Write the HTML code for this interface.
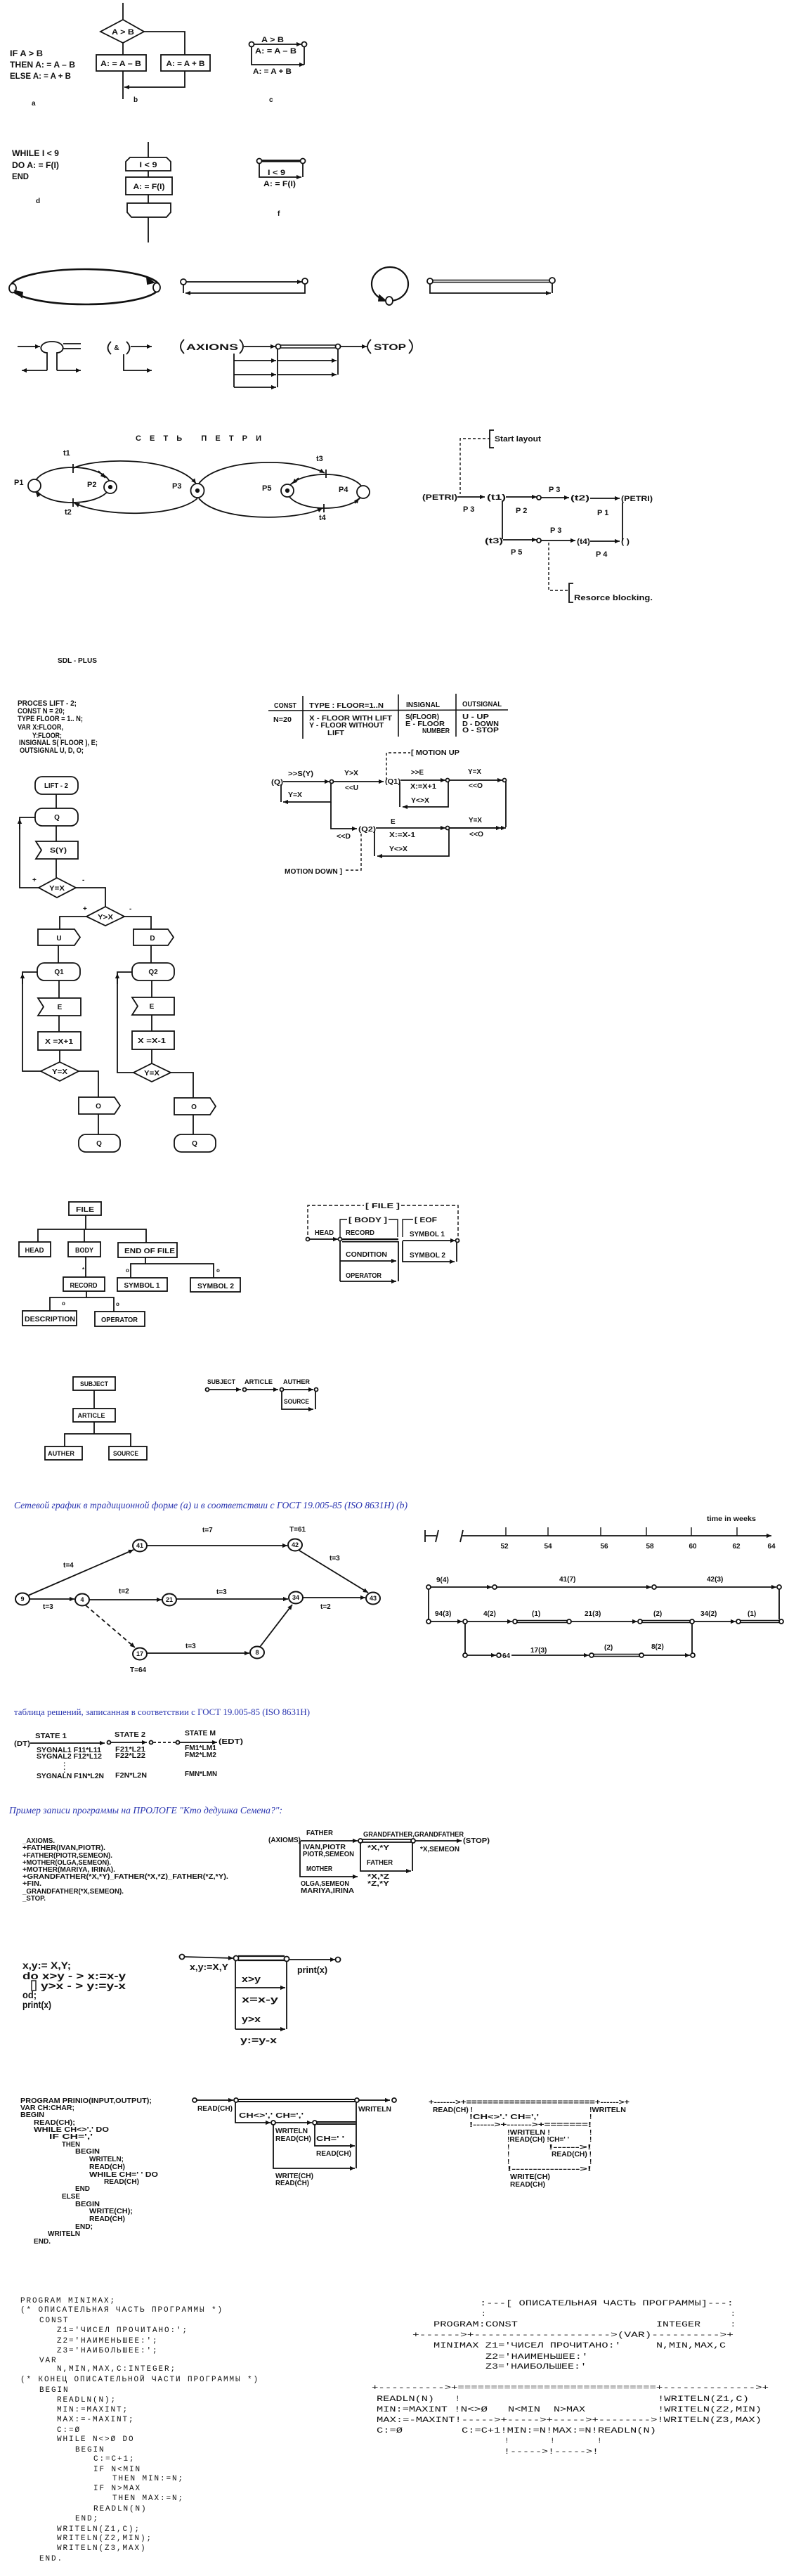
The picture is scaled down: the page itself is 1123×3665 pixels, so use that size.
<!DOCTYPE html>
<html><head><meta charset="utf-8"><style>
html,body{margin:0;padding:0;background:#fff;}
svg{display:block}
.t{font-family:"Liberation Sans","Noto Sans CJK SC",sans-serif;font-weight:bold;fill:#111;stroke:none}
.m{font-family:"Liberation Mono","Noto Sans CJK SC",monospace;fill:#111;stroke:none;font-size:11px;letter-spacing:1.9px}
.bl{font-family:"Liberation Serif","Noto Serif CJK SC",serif;fill:#2a35b0;stroke:none}
</style></head><body>
<svg width="1123" height="3665" viewBox="0 0 1123 3665" xmlns="http://www.w3.org/2000/svg">
<defs>
<marker id="a" viewBox="0 0 10 10" refX="10" refY="5" markerWidth="8" markerHeight="7" markerUnits="userSpaceOnUse" orient="auto"><path d="M0,0.5 L10,5 L0,9.5z" fill="#111"/></marker>
</defs>
<rect width="1123" height="3665" fill="#fff"/>

<g fill="none" stroke="#111" stroke-width="1.8">
<!-- ===== Section 1 ===== -->
<path d="M175,4V28"/>
<polygon points="175,28 205,45 175,61 143,45" fill="#fff"/>
<path d="M205,45H263V78"/>
<path d="M175,61V78"/>
<rect x="137" y="78" width="71" height="23"/>
<rect x="229" y="78" width="70" height="23"/>
<path d="M175,101V141"/>
<path d="M263,101V124H177" marker-end="url(#a)"/>
<path d="M361,63H429" marker-end="url(#a)"/>
<path d="M358,66V92H433" marker-end="url(#a)"/>
<path d="M433,66V92"/>
<circle cx="358" cy="63" r="3.5" fill="#fff"/>
<circle cx="433" cy="63" r="3.5" fill="#fff"/>
<path d="M211,202V345"/>
<polygon points="185,224 237,224 243,230 243,243 179,243 179,230" fill="#fff"/>
<rect x="179" y="252" width="66" height="25" fill="#fff"/>
<polygon points="181,289 243,289 243,302 237,309 187,309 181,302" fill="#fff"/>
<path d="M372,229H428" stroke-width="3.5"/>
<path d="M369,232V252H429" marker-end="url(#a)"/>
<path d="M431,232V252"/>
<circle cx="369" cy="229" r="3.5" fill="#fff"/>
<circle cx="431" cy="229" r="3.5" fill="#fff"/>

<!-- ===== Section 2 ===== -->
<ellipse cx="121" cy="408" rx="106" ry="25" stroke-width="2.6"/>
<ellipse cx="18" cy="410" rx="5" ry="6.5" fill="#fff"/>
<ellipse cx="223" cy="409" rx="5" ry="6.5" fill="#fff"/>
<polygon points="209,395 219,402 210,404" fill="#111"/>
<polygon points="31,423 22,414 32,416" fill="#111"/>
<path d="M265,401H430" marker-end="url(#a)"/>
<path d="M434,404V417H264" marker-end="url(#a)"/>
<path d="M261,405V417"/>
<circle cx="261" cy="401" r="4" fill="#fff"/>
<circle cx="434" cy="400" r="4" fill="#fff"/>
<ellipse cx="555" cy="404" rx="26" ry="24" stroke-width="2.2"/>
<polygon points="540,420 549,428 539,428" fill="#111"/>
<ellipse cx="554" cy="428" rx="5" ry="6" fill="#fff"/>
<path d="M616,398.5H782M616,401.5H782" stroke-width="1.4"/>
<path d="M612,404V417H784" marker-end="url(#a)"/>
<path d="M786,403V417"/>
<circle cx="612" cy="400" r="4" fill="#fff"/>
<circle cx="786" cy="399" r="4" fill="#fff"/>
<!-- fork -->
<path d="M25,493H57" marker-end="url(#a)"/>
<path d="M67,527V502C54,501 55,486 74,486C93,486 94,501 81,502V527"/>
<path d="M67,527H31" marker-end="url(#a)"/>
<path d="M81,527H115" marker-end="url(#a)"/>
<path d="M90,489H115M90,496H115"/>
<!-- & -->
<path d="M158,486Q149,495 158,504"/>
<path d="M180,486Q189,495 180,504"/>
<path d="M186,493H216" marker-end="url(#a)"/>
<path d="M176,504V527H216" marker-end="url(#a)"/>
<!-- axioms -->
<path d="M262,483Q252,493 262,503"/>
<path d="M341,483Q351,493 341,503"/>
<path d="M347,493H392" marker-end="url(#a)"/>
<path d="M399,491H478M399,495H478" stroke-width="1.6"/>
<path d="M485,493H522" marker-end="url(#a)"/>
<path d="M528,483Q518,493 528,503"/>
<path d="M582,483Q592,493 582,503"/>
<path d="M333,503V551"/>
<path d="M333,513H393" marker-end="url(#a)"/>
<path d="M333,533H393" marker-end="url(#a)"/>
<path d="M333,551H393" marker-end="url(#a)"/>
<path d="M395,497V551"/>
<path d="M395,513H479" marker-end="url(#a)"/>
<path d="M395,533H479" marker-end="url(#a)"/>
<path d="M481,497V533"/>
<circle cx="396" cy="493" r="3.5" fill="#fff"/>
<circle cx="481" cy="493" r="3.5" fill="#fff"/>

<!-- ===== Petri ===== -->
<ellipse cx="103" cy="690" rx="54" ry="25"/>
<ellipse cx="463" cy="699" rx="54" ry="24"/>
<path d="M104,666C140,650 250,650 279,688" marker-end="url(#a)"/>
<path d="M281,709C250,736 150,736 106,716" marker-end="url(#a)"/>
<path d="M283,688C310,652 420,650 462,673" marker-end="url(#a)"/>
<path d="M283,709C310,742 420,742 459,723" marker-end="url(#a)"/>
<path d="M140,670L150,680" marker-end="url(#a)"/>
<path d="M56,706L51,700" marker-end="url(#a)"/>
<path d="M425,680L416,688" marker-end="url(#a)"/>
<path d="M505,716L511,709" marker-end="url(#a)"/>
<path d="M104,660V673M104,709V721M464,668V680M461,717V729"/>
<ellipse cx="49" cy="691" rx="9" ry="9" fill="#fff"/>
<ellipse cx="157" cy="693" rx="9" ry="9" fill="#fff"/>
<ellipse cx="281" cy="698" rx="9.5" ry="10" fill="#fff"/>
<ellipse cx="409" cy="698" rx="9" ry="9" fill="#fff"/>
<ellipse cx="517" cy="700" rx="9" ry="9" fill="#fff"/>
<circle cx="157" cy="693" r="2.2" fill="#111"/>
<circle cx="281" cy="698" r="2.2" fill="#111"/>
<circle cx="409" cy="698" r="2.2" fill="#111"/>
<!-- right layout -->
<path d="M698,624H655V703" stroke-dasharray="4,3" stroke-width="1.4"/>
<path d="M703,612H697V637H703"/>
<path d="M651,707H690" marker-end="url(#a)"/>
<path d="M720,707H764" marker-end="url(#a)"/>
<path d="M770,708H810" marker-end="url(#a)"/>
<path d="M840,709H882" marker-end="url(#a)"/>
<path d="M715,712V767"/>
<path d="M716,768H764" marker-end="url(#a)"/>
<path d="M770,769H819" marker-end="url(#a)"/>
<path d="M840,770H882" marker-end="url(#a)"/>
<path d="M886,715V770"/>
<path d="M781,772V840H810" stroke-dasharray="4,3" stroke-width="1.4"/>
<path d="M816,830H810V857H816"/>
<circle cx="767" cy="708" r="3" fill="#fff"/>
<circle cx="767" cy="769" r="3" fill="#fff"/>

<!-- ===== SDL left flowchart ===== -->
<rect x="50" y="1105" width="61" height="25" rx="10"/>
<path d="M80,1130V1150"/>
<rect x="50" y="1150" width="61" height="25" rx="10"/>
<path d="M80,1175V1197"/>
<polygon points="51,1197 111,1197 111,1222 51,1222 59,1209.5"/>
<path d="M80,1222V1249"/>
<polygon points="81,1249 108,1263 81,1277 55,1263"/>
<path d="M55,1263H28V1163H50"/>
<path d="M28,1180V1165" marker-end="url(#a)"/>
<path d="M108,1263H150V1290"/>
<polygon points="150,1290 177,1304 150,1317 123,1304"/>
<path d="M123,1304H85V1322"/>
<path d="M177,1304H215V1322"/>
<polygon points="54,1322 106,1322 114,1333.5 106,1345 54,1345"/>
<polygon points="190,1322 239,1322 247,1333.5 239,1345 190,1345"/>
<path d="M83,1345V1370"/>
<rect x="53" y="1370" width="61" height="25" rx="10"/>
<path d="M84,1395V1420"/>
<polygon points="54,1420 115,1420 115,1445 54,1445 62,1432.5"/>
<path d="M84,1445V1468"/>
<rect x="54" y="1468" width="61" height="26"/>
<path d="M85,1494V1511"/>
<polygon points="85,1511 112,1524 85,1538 58,1524"/>
<path d="M58,1524H32V1383H53"/>
<path d="M32,1400V1385" marker-end="url(#a)"/>
<path d="M112,1524H140V1561"/>
<polygon points="112,1561 163,1561 171,1573 163,1585 112,1585"/>
<path d="M140,1585V1614"/>
<rect x="112" y="1614" width="59" height="25" rx="10"/>
<path d="M215,1345V1370"/>
<rect x="188" y="1370" width="60" height="25" rx="10"/>
<path d="M216,1395V1419"/>
<polygon points="188,1419 248,1419 248,1444 188,1444 196,1431.5"/>
<path d="M216,1444V1467"/>
<rect x="188" y="1467" width="60" height="26"/>
<path d="M216,1493V1513"/>
<polygon points="216,1513 243,1526 216,1539 190,1526"/>
<path d="M190,1526H167V1383H188"/>
<path d="M167,1400V1385" marker-end="url(#a)"/>
<path d="M243,1526H275V1562"/>
<polygon points="248,1562 299,1562 307,1574 299,1586 248,1586"/>
<path d="M275,1586V1614"/>
<rect x="248" y="1614" width="59" height="25" rx="10"/>

<!-- CONST table -->
<path d="M382,1011L723,1010" stroke-width="1.6"/>
<path d="M431,990V1051M567,988V1048M649,987V1048" stroke-width="1.6"/>

<!-- SDL right -->
<path d="M550,1110V1071H584" stroke-dasharray="4,3" stroke-width="1.4"/>
<path d="M403,1112H469" marker-end="url(#a)"/>
<path d="M474,1112H546" marker-end="url(#a)"/>
<path d="M570,1110H634" marker-end="url(#a)"/>
<path d="M638,1112V1148H573" marker-end="url(#a)"/>
<path d="M569,1113V1148"/>
<path d="M640,1110H715" marker-end="url(#a)"/>
<path d="M720,1110V1177"/>
<path d="M471,1115V1141H403" marker-end="url(#a)"/>
<path d="M400,1116V1141"/>
<path d="M471,1141V1179H508" marker-end="url(#a)"/>
<path d="M514,1186V1238H490" stroke-dasharray="4,3" stroke-width="1.4"/>
<path d="M535,1178H634" marker-end="url(#a)"/>
<path d="M639,1180V1218H537" marker-end="url(#a)"/>
<path d="M533,1182V1218"/>
<path d="M640,1178H720" marker-end="url(#a)"/>
<path d="M640,1178H713" marker-end="url(#a)"/>
<circle cx="472" cy="1112" r="2.5" fill="#fff"/>
<circle cx="637" cy="1110" r="2.5" fill="#fff"/>
<circle cx="718" cy="1110" r="2.5" fill="#fff"/>
<circle cx="637" cy="1178" r="2.5" fill="#fff"/>

<!-- ===== FILE tree ===== -->
<rect x="98" y="1710" width="46" height="19"/>
<path d="M122,1729V1749M54,1767V1749H208V1768M120,1749V1767"/>
<rect x="27" y="1767" width="45" height="21"/>
<rect x="97" y="1767" width="46" height="21"/>
<rect x="168" y="1768" width="84" height="21"/>
<path d="M122,1788V1817"/>
<rect x="90" y="1817" width="59" height="20"/>
<path d="M207,1789V1798M186,1818V1798H304V1818"/>
<rect x="167" y="1818" width="71" height="19"/>
<rect x="271" y="1818" width="71" height="20"/>
<path d="M123,1837V1846M71,1865V1846H162V1866"/>
<rect x="32" y="1865" width="77" height="21"/>
<rect x="135" y="1866" width="71" height="21"/>
<!-- FILE right -->
<path d="M438,1757V1715H518M571,1715H652V1765" stroke-dasharray="5,3" stroke-width="1.4"/>
<path d="M484,1760V1735H494M553,1735H566V1760M573,1760V1735H588" stroke-width="1.4"/>
<path d="M441,1763H481" marker-end="url(#a)"/>
<path d="M487,1763H567M487,1766.5H567" stroke-width="2"/>
<path d="M573,1765H648" marker-end="url(#a)"/>
<path d="M573,1766V1795H647" marker-end="url(#a)"/>
<path d="M650,1768V1795"/>
<path d="M484,1766V1823"/>
<path d="M484,1794H564" marker-end="url(#a)"/>
<path d="M484,1823H564" marker-end="url(#a)"/>
<path d="M567,1766V1823"/>
<circle cx="438" cy="1763" r="2.5" fill="#fff"/>
<circle cx="484" cy="1763" r="2.5" fill="#fff"/>
<circle cx="651" cy="1765" r="2.5" fill="#fff"/>
<!-- SUBJECT tree -->
<rect x="104" y="1959" width="60" height="19"/>
<path d="M134,1978V2004"/>
<rect x="104" y="2004" width="60" height="19"/>
<path d="M134,2023V2040M92,2058V2040H186V2058"/>
<rect x="64" y="2058" width="53" height="19"/>
<rect x="155" y="2058" width="54" height="19"/>
<path d="M298,1977H343" marker-end="url(#a)"/>
<path d="M351,1977H396" marker-end="url(#a)"/>
<path d="M404,1977H446" marker-end="url(#a)"/>
<path d="M401,1980V2005H446" marker-end="url(#a)"/>
<path d="M449,1980V2005"/>
<circle cx="295" cy="1977" r="2.5" fill="#fff"/>
<circle cx="348" cy="1977" r="2.5" fill="#fff"/>
<circle cx="401" cy="1977" r="2.5" fill="#fff"/>
<circle cx="450" cy="1977" r="2.5" fill="#fff"/>

<!-- ===== Network ===== -->
<path d="M40,2270L190,2205" marker-end="url(#a)"/>
<path d="M209,2199H409" marker-end="url(#a)"/>
<path d="M426,2206L524,2266" marker-end="url(#a)"/>
<path d="M42,2275H106" marker-end="url(#a)"/>
<path d="M127,2276H230" marker-end="url(#a)"/>
<path d="M251,2275H410" marker-end="url(#a)"/>
<path d="M431,2273H520" marker-end="url(#a)"/>
<path d="M122,2284L192,2344" marker-end="url(#a)" stroke-dasharray="6,4"/>
<path d="M209,2352H355" marker-end="url(#a)"/>
<path d="M370,2343L416,2283" marker-end="url(#a)"/>
<ellipse cx="32" cy="2275" rx="10" ry="8.5" fill="#fff" stroke-width="2"/>
<ellipse cx="117" cy="2276" rx="10" ry="8.5" fill="#fff" stroke-width="2"/>
<ellipse cx="199" cy="2199" rx="10" ry="8.5" fill="#fff" stroke-width="2"/>
<ellipse cx="420" cy="2198" rx="10" ry="8.5" fill="#fff" stroke-width="2"/>
<ellipse cx="241" cy="2276" rx="10" ry="8.5" fill="#fff" stroke-width="2"/>
<ellipse cx="421" cy="2273" rx="10" ry="8.5" fill="#fff" stroke-width="2"/>
<ellipse cx="531" cy="2274" rx="10" ry="8.5" fill="#fff" stroke-width="2"/>
<ellipse cx="199" cy="2353" rx="10" ry="8.5" fill="#fff" stroke-width="2"/>
<ellipse cx="366" cy="2351" rx="10" ry="8.5" fill="#fff" stroke-width="2"/>
<!-- time axis -->
<path d="M657,2185H1098" marker-end="url(#a)"/>
<path d="M605,2177V2194M605,2185H621M620,2194L624,2177M655,2194L659,2177"/>
<path d="M720,2173V2185M780,2173V2185M855,2173V2185M920,2173V2185M984,2173V2185M1049,2173V2185" stroke-width="1.4"/>
<!-- right network -->
<path d="M613,2258H700" marker-end="url(#a)"/>
<path d="M707,2258H927" marker-end="url(#a)"/>
<path d="M934,2258H1105" marker-end="url(#a)"/>
<path d="M610,2261V2304M1109,2261V2304"/>
<path d="M613,2307H658" marker-end="url(#a)"/>
<path d="M665,2307H729" marker-end="url(#a)"/>
<path d="M736,2305.5H807M736,2308.5H807" stroke-width="1.6"/>
<path d="M813,2307H907" marker-end="url(#a)"/>
<path d="M914,2305.5H982M914,2308.5H982" stroke-width="1.6"/>
<path d="M988,2307H1047" marker-end="url(#a)"/>
<path d="M1054,2305.5H1109M1054,2308.5H1109" stroke-width="1.6"/>
<path d="M662,2310V2352M985,2310V2352"/>
<path d="M665,2355H706" marker-end="url(#a)"/>
<path d="M728,2355H838" marker-end="url(#a)"/>
<path d="M845,2353.5H910M845,2356.5H910" stroke-width="1.6"/>
<path d="M916,2355H982" marker-end="url(#a)"/>
<g fill="#fff">
<circle cx="610" cy="2258" r="3"/><circle cx="704" cy="2258" r="3"/><circle cx="931" cy="2258" r="3"/><circle cx="1109" cy="2258" r="3"/>
<circle cx="610" cy="2307" r="3"/><circle cx="662" cy="2307" r="3"/><circle cx="733" cy="2307" r="3"/><circle cx="810" cy="2307" r="3"/><circle cx="911" cy="2307" r="3"/><circle cx="985" cy="2307" r="3"/><circle cx="1051" cy="2307" r="3"/><circle cx="1112" cy="2307" r="3"/>
<circle cx="662" cy="2355" r="3"/><circle cx="710" cy="2355" r="3"/><circle cx="842" cy="2355" r="3"/><circle cx="913" cy="2355" r="3"/><circle cx="986" cy="2355" r="3"/>
</g>

<!-- decision table -->
<path d="M43,2480H149" marker-end="url(#a)"/>
<path d="M158,2479H209" marker-end="url(#a)"/>
<path d="M218,2479H250" stroke-dasharray="4,3"/>
<path d="M256,2479H309" marker-end="url(#a)"/>
<circle cx="155" cy="2479" r="2.5" fill="#fff"/>
<circle cx="215" cy="2479" r="2.5" fill="#fff"/>
<circle cx="253" cy="2479" r="2.5" fill="#fff"/>

<!-- PROLOG diagram -->
<path d="M428,2619H509" marker-end="url(#a)"/>
<path d="M516,2617H585M516,2621H585" stroke-width="1.8"/>
<path d="M591,2619H657" marker-end="url(#a)"/>
<path d="M427,2619V2670H509" marker-end="url(#a)"/>
<path d="M513,2622V2662H585" marker-end="url(#a)"/>
<path d="M587,2622V2662"/>
<circle cx="513" cy="2619" r="3" fill="#fff"/>
<circle cx="588" cy="2619" r="3" fill="#fff"/>

<!-- x:=y diagram -->
<path d="M262,2784L332,2786" marker-end="url(#a)"/>
<path d="M339,2783H405M339,2789H405" stroke-width="2.2"/>
<path d="M411,2788H477" marker-end="url(#a)"/>
<path d="M335,2790V2887"/>
<path d="M335,2828H406" marker-end="url(#a)"/>
<path d="M335,2887H406" marker-end="url(#a)"/>
<path d="M408,2791V2887"/>
<circle cx="259" cy="2784" r="3.5" fill="#fff"/>
<circle cx="336" cy="2786" r="3.5" fill="#fff"/>
<circle cx="408" cy="2787" r="3.5" fill="#fff"/>
<circle cx="481" cy="2788" r="3.5" fill="#fff"/>
<rect x="45" y="2818" width="6" height="14" stroke-width="1.4"/>

<!-- PRIMIO middle diagram -->
<path d="M280,2988H332" marker-end="url(#a)"/>
<path d="M339,2987H505M339,2990H505" stroke-width="2"/>
<path d="M511,2988H555" marker-end="url(#a)"/>
<path d="M335,2991V3020H385" marker-end="url(#a)"/>
<path d="M392,3020H444" marker-end="url(#a)"/>
<path d="M451,3019H506M451,3022H506" stroke-width="2"/>
<path d="M389,3023V3085H505" marker-end="url(#a)"/>
<path d="M448,3023V3053H505" marker-end="url(#a)"/>
<path d="M507,2991V3085"/>
<circle cx="277" cy="2988" r="3" fill="#fff"/>
<circle cx="336" cy="2988" r="3" fill="#fff"/>
<circle cx="508" cy="2988" r="3" fill="#fff"/>
<circle cx="561" cy="2988" r="3" fill="#fff"/>
<circle cx="389" cy="3020" r="3" fill="#fff"/>
<circle cx="448" cy="3020" r="3" fill="#fff"/>
</g>

<!-- ================= TEXT ================= -->
<g class="t">
<!-- section 1 -->
<text x="14" y="80" font-size="12" textLength="47" lengthAdjust="spacingAndGlyphs">IF A &gt; B</text>
<text x="14" y="96" font-size="12" textLength="93" lengthAdjust="spacingAndGlyphs">THEN A: = A – B</text>
<text x="14" y="112" font-size="12" textLength="87" lengthAdjust="spacingAndGlyphs">ELSE A: = A + B</text>
<text x="45" y="150" font-size="10">a</text>
<text x="175" y="49" font-size="11" text-anchor="middle" textLength="32" lengthAdjust="spacingAndGlyphs">A &gt; B</text>
<text x="172" y="94" font-size="11" text-anchor="middle" textLength="58" lengthAdjust="spacingAndGlyphs">A: = A – B</text>
<text x="264" y="94" font-size="11" text-anchor="middle" textLength="55" lengthAdjust="spacingAndGlyphs">A: = A + B</text>
<text x="190" y="145" font-size="10">b</text>
<text x="372" y="60" font-size="11" textLength="32" lengthAdjust="spacingAndGlyphs">A &gt; B</text>
<text x="363" y="76" font-size="11" textLength="59" lengthAdjust="spacingAndGlyphs">A: = A – B</text>
<text x="360" y="105" font-size="11" textLength="55" lengthAdjust="spacingAndGlyphs">A: = A + B</text>
<text x="383" y="145" font-size="10">c</text>
<text x="17" y="222" font-size="12" textLength="67" lengthAdjust="spacingAndGlyphs">WHILE I &lt; 9</text>
<text x="17" y="239" font-size="12" textLength="67" lengthAdjust="spacingAndGlyphs">DO A: = F(I)</text>
<text x="17" y="255" font-size="12" textLength="24" lengthAdjust="spacingAndGlyphs">END</text>
<text x="51" y="289" font-size="10">d</text>
<text x="211" y="238" font-size="11" text-anchor="middle" textLength="25" lengthAdjust="spacingAndGlyphs">I &lt; 9</text>
<text x="212" y="269" font-size="11" text-anchor="middle" textLength="45" lengthAdjust="spacingAndGlyphs">A: = F(I)</text>
<text x="381" y="249" font-size="11" textLength="25" lengthAdjust="spacingAndGlyphs">I &lt; 9</text>
<text x="375" y="265" font-size="11" textLength="46" lengthAdjust="spacingAndGlyphs">A: = F(I)</text>
<text x="395" y="307" font-size="10">f</text>
<!-- section 2 -->
<text x="166" y="498" font-size="10" text-anchor="middle">&amp;</text>
<text x="265" y="498" font-size="12" textLength="74" lengthAdjust="spacingAndGlyphs">AXIONS</text>
<text x="532" y="498" font-size="12" textLength="46" lengthAdjust="spacingAndGlyphs">STOP</text>
<!-- petri -->
<text x="193" y="627" font-size="11" textLength="185" lengthAdjust="spacing" letter-spacing="6">СЕТЬ  ПЕТРИ</text>
<text x="90" y="648" font-size="11">t1</text>
<text x="20" y="690" font-size="11">P1</text>
<text x="124" y="693" font-size="11">P2</text>
<text x="245" y="695" font-size="11">P3</text>
<text x="373" y="698" font-size="11">P5</text>
<text x="482" y="700" font-size="11">P4</text>
<text x="450" y="656" font-size="11">t3</text>
<text x="92" y="732" font-size="11">t2</text>
<text x="454" y="740" font-size="11">t4</text>
<text x="704" y="628" font-size="11" textLength="66" lengthAdjust="spacingAndGlyphs">Start layout</text>
<text x="601" y="711" font-size="11" textLength="50" lengthAdjust="spacingAndGlyphs">(PETRI)</text>
<text x="693" y="711" font-size="11" textLength="27" lengthAdjust="spacingAndGlyphs">(t1)</text>
<text x="812" y="712" font-size="11" textLength="27" lengthAdjust="spacingAndGlyphs">(t2)</text>
<text x="884" y="713" font-size="11" textLength="45" lengthAdjust="spacingAndGlyphs">(PETRI)</text>
<text x="690" y="773" font-size="11" textLength="26" lengthAdjust="spacingAndGlyphs">(t3)</text>
<text x="821" y="774" font-size="11" textLength="19" lengthAdjust="spacingAndGlyphs">(t4)</text>
<text x="884" y="774" font-size="11" textLength="12" lengthAdjust="spacingAndGlyphs">( )</text>
<text x="781" y="700" font-size="11">P 3</text>
<text x="659" y="728" font-size="11">P 3</text>
<text x="734" y="730" font-size="11">P 2</text>
<text x="850" y="733" font-size="11">P 1</text>
<text x="783" y="758" font-size="11">P 3</text>
<text x="727" y="789" font-size="11">P 5</text>
<text x="848" y="792" font-size="11">P 4</text>
<text x="817" y="854" font-size="11" textLength="112" lengthAdjust="spacingAndGlyphs">Resorce blocking.</text>
<text x="82" y="943" font-size="10" textLength="56" lengthAdjust="spacingAndGlyphs">SDL - PLUS</text>
<!-- SDL code -->
<text x="25" y="1004" font-size="11" textLength="84" lengthAdjust="spacingAndGlyphs">PROCES LIFT - 2;</text>
<text x="25" y="1015" font-size="11" textLength="67" lengthAdjust="spacingAndGlyphs">CONST  N = 20;</text>
<text x="25" y="1026" font-size="11" textLength="93" lengthAdjust="spacingAndGlyphs">TYPE FLOOR = 1.. N;</text>
<text x="25" y="1038" font-size="11" textLength="65" lengthAdjust="spacingAndGlyphs">VAR X:FLOOR,</text>
<text x="46" y="1050" font-size="11" textLength="42" lengthAdjust="spacingAndGlyphs">Y:FLOOR;</text>
<text x="27" y="1060" font-size="11" textLength="112" lengthAdjust="spacingAndGlyphs">INSIGNAL S( FLOOR ), E;</text>
<text x="28" y="1071" font-size="11" textLength="91" lengthAdjust="spacingAndGlyphs">OUTSIGNAL U, D, O;</text>
<!-- SDL flowchart texts -->
<text x="80" y="1121" font-size="10" text-anchor="middle" textLength="34" lengthAdjust="spacingAndGlyphs">LIFT - 2</text>
<text x="81" y="1166" font-size="10" text-anchor="middle">Q</text>
<text x="83" y="1213" font-size="10" text-anchor="middle" textLength="24" lengthAdjust="spacingAndGlyphs">S(Y)</text>
<text x="81" y="1267" font-size="10" text-anchor="middle" textLength="22" lengthAdjust="spacingAndGlyphs">Y=X</text>
<text x="46" y="1255" font-size="10">+</text>
<text x="117" y="1255" font-size="10">-</text>
<text x="118" y="1296" font-size="10">+</text>
<text x="184" y="1296" font-size="10">-</text>
<text x="150" y="1308" font-size="10" text-anchor="middle" textLength="22" lengthAdjust="spacingAndGlyphs">Y&gt;X</text>
<text x="84" y="1338" font-size="10" text-anchor="middle">U</text>
<text x="217" y="1338" font-size="10" text-anchor="middle">D</text>
<text x="84" y="1386" font-size="10" text-anchor="middle">Q1</text>
<text x="85" y="1436" font-size="10" text-anchor="middle">E</text>
<text x="84" y="1485" font-size="10" text-anchor="middle" textLength="40" lengthAdjust="spacingAndGlyphs">X =X+1</text>
<text x="85" y="1528" font-size="10" text-anchor="middle" textLength="22" lengthAdjust="spacingAndGlyphs">Y=X</text>
<text x="140" y="1577" font-size="10" text-anchor="middle">O</text>
<text x="141" y="1630" font-size="10" text-anchor="middle">Q</text>
<text x="218" y="1386" font-size="10" text-anchor="middle">Q2</text>
<text x="216" y="1435" font-size="10" text-anchor="middle">E</text>
<text x="216" y="1484" font-size="10" text-anchor="middle" textLength="40" lengthAdjust="spacingAndGlyphs">X =X-1</text>
<text x="216" y="1530" font-size="10" text-anchor="middle" textLength="22" lengthAdjust="spacingAndGlyphs">Y=X</text>
<text x="276" y="1578" font-size="10" text-anchor="middle">O</text>
<text x="277" y="1630" font-size="10" text-anchor="middle">Q</text>
<!-- CONST table -->
<text x="390" y="1007" font-size="10" textLength="32" lengthAdjust="spacingAndGlyphs">CONST</text>
<text x="440" y="1007" font-size="10" textLength="106" lengthAdjust="spacingAndGlyphs">TYPE : FLOOR=1..N</text>
<text x="578" y="1006" font-size="10" textLength="48" lengthAdjust="spacingAndGlyphs">INSIGNAL</text>
<text x="658" y="1005" font-size="10" textLength="56" lengthAdjust="spacingAndGlyphs">OUTSIGNAL</text>
<text x="389" y="1027" font-size="10" textLength="26" lengthAdjust="spacingAndGlyphs">N=20</text>
<text x="440" y="1025" font-size="10" textLength="118" lengthAdjust="spacingAndGlyphs">X - FLOOR WITH LIFT</text>
<text x="440" y="1035" font-size="10" textLength="106" lengthAdjust="spacingAndGlyphs">Y - FLOOR WITHOUT</text>
<text x="466" y="1046" font-size="10" textLength="24" lengthAdjust="spacingAndGlyphs">LIFT</text>
<text x="577" y="1023" font-size="10" textLength="48" lengthAdjust="spacingAndGlyphs">S(FLOOR)</text>
<text x="577" y="1033" font-size="10" textLength="56" lengthAdjust="spacingAndGlyphs">E - FLOOR</text>
<text x="601" y="1043" font-size="10" textLength="39" lengthAdjust="spacingAndGlyphs">NUMBER</text>
<text x="658" y="1023" font-size="10" textLength="38" lengthAdjust="spacingAndGlyphs">U - UP</text>
<text x="658" y="1033" font-size="10" textLength="52" lengthAdjust="spacingAndGlyphs">D - DOWN</text>
<text x="658" y="1042" font-size="10" textLength="52" lengthAdjust="spacingAndGlyphs">O - STOP</text>
<!-- SDL right texts -->
<text x="585" y="1074" font-size="10" textLength="69" lengthAdjust="spacingAndGlyphs">[ MOTION UP</text>
<text x="386" y="1116" font-size="10" textLength="17" lengthAdjust="spacingAndGlyphs">(Q)</text>
<text x="410" y="1104" font-size="10" textLength="36" lengthAdjust="spacingAndGlyphs">&gt;&gt;S(Y)</text>
<text x="490" y="1103" font-size="10" textLength="20" lengthAdjust="spacingAndGlyphs">Y&gt;X</text>
<text x="491" y="1124" font-size="10" textLength="19" lengthAdjust="spacingAndGlyphs">&lt;&lt;U</text>
<text x="548" y="1115" font-size="10" textLength="22" lengthAdjust="spacingAndGlyphs">(Q1)</text>
<text x="585" y="1102" font-size="10" textLength="18" lengthAdjust="spacingAndGlyphs">&gt;&gt;E</text>
<text x="584" y="1122" font-size="10" textLength="37" lengthAdjust="spacingAndGlyphs">X:=X+1</text>
<text x="585" y="1142" font-size="10" textLength="26" lengthAdjust="spacingAndGlyphs">Y&lt;&gt;X</text>
<text x="666" y="1101" font-size="10" textLength="19" lengthAdjust="spacingAndGlyphs">Y=X</text>
<text x="667" y="1121" font-size="10" textLength="20" lengthAdjust="spacingAndGlyphs">&lt;&lt;O</text>
<text x="410" y="1134" font-size="10" textLength="20" lengthAdjust="spacingAndGlyphs">Y=X</text>
<text x="510" y="1183" font-size="10" textLength="25" lengthAdjust="spacingAndGlyphs">(Q2)</text>
<text x="479" y="1193" font-size="10" textLength="20" lengthAdjust="spacingAndGlyphs">&lt;&lt;D</text>
<text x="405" y="1243" font-size="10" textLength="82" lengthAdjust="spacingAndGlyphs">MOTION DOWN ]</text>
<text x="556" y="1172" font-size="10">E</text>
<text x="554" y="1191" font-size="10" textLength="37" lengthAdjust="spacingAndGlyphs">X:=X-1</text>
<text x="554" y="1211" font-size="10" textLength="26" lengthAdjust="spacingAndGlyphs">Y&lt;&gt;X</text>
<text x="667" y="1170" font-size="10" textLength="19" lengthAdjust="spacingAndGlyphs">Y=X</text>
<text x="668" y="1190" font-size="10" textLength="20" lengthAdjust="spacingAndGlyphs">&lt;&lt;O</text>
<!-- FILE tree -->
<text x="121" y="1724" font-size="10" text-anchor="middle" textLength="26" lengthAdjust="spacingAndGlyphs">FILE</text>
<text x="49" y="1782" font-size="10" text-anchor="middle" textLength="27" lengthAdjust="spacingAndGlyphs">HEAD</text>
<text x="120" y="1782" font-size="10" text-anchor="middle" textLength="26" lengthAdjust="spacingAndGlyphs">BODY</text>
<text x="213" y="1783" font-size="10" text-anchor="middle" textLength="72" lengthAdjust="spacingAndGlyphs">END OF FILE</text>
<text x="117" y="1809" font-size="8">*</text>
<text x="119" y="1832" font-size="10" text-anchor="middle" textLength="39" lengthAdjust="spacingAndGlyphs">RECORD</text>
<text x="179" y="1810" font-size="8">o</text>
<text x="308" y="1810" font-size="8">o</text>
<text x="202" y="1832" font-size="10" text-anchor="middle" textLength="51" lengthAdjust="spacingAndGlyphs">SYMBOL 1</text>
<text x="307" y="1833" font-size="10" text-anchor="middle" textLength="52" lengthAdjust="spacingAndGlyphs">SYMBOL 2</text>
<text x="88" y="1857" font-size="8">o</text>
<text x="165" y="1858" font-size="8">o</text>
<text x="71" y="1880" font-size="10" text-anchor="middle" textLength="72" lengthAdjust="spacingAndGlyphs">DESCRIPTION</text>
<text x="170" y="1881" font-size="10" text-anchor="middle" textLength="52" lengthAdjust="spacingAndGlyphs">OPERATOR</text>
<text x="520" y="1719" font-size="10" textLength="49" lengthAdjust="spacingAndGlyphs">[ FILE ]</text>
<text x="496" y="1739" font-size="10" textLength="55" lengthAdjust="spacingAndGlyphs">[ BODY ]</text>
<text x="590" y="1739" font-size="10" textLength="32" lengthAdjust="spacingAndGlyphs">[ EOF</text>
<text x="448" y="1757" font-size="10" textLength="27" lengthAdjust="spacingAndGlyphs">HEAD</text>
<text x="492" y="1757" font-size="10" textLength="41" lengthAdjust="spacingAndGlyphs">RECORD</text>
<text x="583" y="1759" font-size="10" textLength="50" lengthAdjust="spacingAndGlyphs">SYMBOL 1</text>
<text x="583" y="1789" font-size="10" textLength="51" lengthAdjust="spacingAndGlyphs">SYMBOL 2</text>
<text x="492" y="1788" font-size="10" textLength="59" lengthAdjust="spacingAndGlyphs">CONDITION</text>
<text x="492" y="1818" font-size="10" textLength="51" lengthAdjust="spacingAndGlyphs">OPERATOR</text>
<!-- SUBJECT -->
<text x="134" y="1972" font-size="9" text-anchor="middle" textLength="40" lengthAdjust="spacingAndGlyphs">SUBJECT</text>
<text x="130" y="2017" font-size="9" text-anchor="middle" textLength="39" lengthAdjust="spacingAndGlyphs">ARTICLE</text>
<text x="87" y="2071" font-size="9" text-anchor="middle" textLength="38" lengthAdjust="spacingAndGlyphs">AUTHER</text>
<text x="179" y="2071" font-size="9" text-anchor="middle" textLength="36" lengthAdjust="spacingAndGlyphs">SOURCE</text>
<text x="295" y="1969" font-size="9" textLength="40" lengthAdjust="spacingAndGlyphs">SUBJECT</text>
<text x="348" y="1969" font-size="9" textLength="40" lengthAdjust="spacingAndGlyphs">ARTICLE</text>
<text x="403" y="1969" font-size="9" textLength="38" lengthAdjust="spacingAndGlyphs">AUTHER</text>
<text x="404" y="1997" font-size="9" textLength="36" lengthAdjust="spacingAndGlyphs">SOURCE</text>
<!-- network -->
<g font-size="9" text-anchor="middle">
<text x="32" y="2278">9</text><text x="117" y="2279">4</text><text x="199" y="2202">41</text><text x="420" y="2201">42</text>
<text x="241" y="2279">21</text><text x="421" y="2276">34</text><text x="531" y="2277">43</text><text x="199" y="2356">17</text><text x="366" y="2354">8</text>
</g>
<text x="288" y="2180" font-size="10">t=7</text>
<text x="412" y="2179" font-size="10">T=61</text>
<text x="90" y="2230" font-size="10">t=4</text>
<text x="469" y="2220" font-size="10">t=3</text>
<text x="169" y="2267" font-size="10">t=2</text>
<text x="308" y="2268" font-size="10">t=3</text>
<text x="61" y="2289" font-size="10">t=3</text>
<text x="456" y="2289" font-size="10">t=2</text>
<text x="264" y="2345" font-size="10">t=3</text>
<text x="185" y="2379" font-size="10">T=64</text>
<text x="1006" y="2164" font-size="10" textLength="70" lengthAdjust="spacingAndGlyphs">time in weeks</text>
<g font-size="10" text-anchor="middle">
<text x="718" y="2203">52</text><text x="780" y="2203">54</text><text x="860" y="2203">56</text><text x="925" y="2203">58</text><text x="986" y="2203">60</text><text x="1048" y="2203">62</text><text x="1098" y="2203">64</text>
</g>
<text x="621" y="2251" font-size="10">9(4)</text>
<text x="796" y="2250" font-size="10">41(7)</text>
<text x="1006" y="2250" font-size="10">42(3)</text>
<text x="619" y="2299" font-size="10">94(3)</text>
<text x="688" y="2299" font-size="10">4(2)</text>
<text x="757" y="2299" font-size="10">(1)</text>
<text x="832" y="2299" font-size="10">21(3)</text>
<text x="930" y="2299" font-size="10">(2)</text>
<text x="997" y="2299" font-size="10">34(2)</text>
<text x="1064" y="2299" font-size="10">(1)</text>
<text x="715" y="2359" font-size="10">64</text>
<text x="755" y="2351" font-size="10">17(3)</text>
<text x="860" y="2347" font-size="10">(2)</text>
<text x="927" y="2346" font-size="10">8(2)</text>
<!-- decision table -->
<text x="50" y="2473" font-size="10" textLength="45" lengthAdjust="spacingAndGlyphs">STATE 1</text>
<text x="163" y="2471" font-size="10" textLength="44" lengthAdjust="spacingAndGlyphs">STATE 2</text>
<text x="263" y="2469" font-size="10" textLength="44" lengthAdjust="spacingAndGlyphs">STATE M</text>
<text x="20" y="2484" font-size="10" textLength="23" lengthAdjust="spacingAndGlyphs">(DT)</text>
<text x="311" y="2481" font-size="10" textLength="35" lengthAdjust="spacingAndGlyphs">(EDT)</text>
<text x="52" y="2493" font-size="10" textLength="92" lengthAdjust="spacingAndGlyphs">SYGNAL1 F11*L11</text>
<text x="164" y="2492" font-size="10" textLength="43" lengthAdjust="spacingAndGlyphs">F21*L21</text>
<text x="263" y="2490" font-size="10" textLength="45" lengthAdjust="spacingAndGlyphs">FM1*LM1</text>
<text x="52" y="2502" font-size="10" textLength="93" lengthAdjust="spacingAndGlyphs">SYGNAL2 F12*L12</text>
<text x="164" y="2501" font-size="10" textLength="43" lengthAdjust="spacingAndGlyphs">F22*L22</text>
<text x="263" y="2500" font-size="10" textLength="45" lengthAdjust="spacingAndGlyphs">FM2*LM2</text>
<text x="90" y="2513" font-size="10">:</text>
<text x="90" y="2522" font-size="10">:</text>
<text x="52" y="2530" font-size="10" textLength="96" lengthAdjust="spacingAndGlyphs">SYGNALN F1N*L2N</text>
<text x="164" y="2529" font-size="10" textLength="45" lengthAdjust="spacingAndGlyphs">F2N*L2N</text>
<text x="263" y="2527" font-size="10" textLength="46" lengthAdjust="spacingAndGlyphs">FMN*LMN</text>
<!-- PROLOG code -->
<text x="32" y="2622" font-size="10" textLength="46" lengthAdjust="spacingAndGlyphs">_AXIOMS.</text>
<text x="32" y="2632" font-size="10" textLength="118" lengthAdjust="spacingAndGlyphs">+FATHER(IVAN,PIOTR).</text>
<text x="32" y="2643" font-size="10" textLength="128" lengthAdjust="spacingAndGlyphs">+FATHER(PIOTR,SEMEON).</text>
<text x="32" y="2653" font-size="10" textLength="126" lengthAdjust="spacingAndGlyphs">+MOTHER(OLGA,SEMEON).</text>
<text x="32" y="2663" font-size="10" textLength="132" lengthAdjust="spacingAndGlyphs">+MOTHER(MARIYA, IRINA).</text>
<text x="32" y="2673" font-size="10" textLength="293" lengthAdjust="spacingAndGlyphs">+GRANDFATHER(*X,*Y)_FATHER(*X,*Z)_FATHER(*Z,*Y).</text>
<text x="32" y="2683" font-size="10" textLength="27" lengthAdjust="spacingAndGlyphs">+FIN.</text>
<text x="32" y="2694" font-size="10" textLength="144" lengthAdjust="spacingAndGlyphs">_GRANDFATHER(*X,SEMEON).</text>
<text x="32" y="2704" font-size="10" textLength="33" lengthAdjust="spacingAndGlyphs">_STOP.</text>
<!-- PROLOG diagram -->
<text x="436" y="2611" font-size="10" textLength="38" lengthAdjust="spacingAndGlyphs">FATHER</text>
<text x="517" y="2613" font-size="10" textLength="143" lengthAdjust="spacingAndGlyphs">GRANDFATHER,GRANDFATHER</text>
<text x="382" y="2621" font-size="10" textLength="46" lengthAdjust="spacingAndGlyphs">(AXIOMS)</text>
<text x="659" y="2622" font-size="10" textLength="38" lengthAdjust="spacingAndGlyphs">(STOP)</text>
<text x="431" y="2631" font-size="10" textLength="61" lengthAdjust="spacingAndGlyphs">IVAN,PIOTR</text>
<text x="431" y="2641" font-size="10" textLength="73" lengthAdjust="spacingAndGlyphs">PIOTR,SEMEON</text>
<text x="436" y="2662" font-size="10" textLength="37" lengthAdjust="spacingAndGlyphs">MOTHER</text>
<text x="523" y="2632" font-size="10" textLength="31" lengthAdjust="spacingAndGlyphs">*X,*Y</text>
<text x="522" y="2653" font-size="10" textLength="37" lengthAdjust="spacingAndGlyphs">FATHER</text>
<text x="598" y="2634" font-size="10" textLength="56" lengthAdjust="spacingAndGlyphs">*X,SEMEON</text>
<text x="523" y="2673" font-size="10" textLength="31" lengthAdjust="spacingAndGlyphs">*X,*Z</text>
<text x="523" y="2683" font-size="10" textLength="31" lengthAdjust="spacingAndGlyphs">*Z,*Y</text>
<text x="428" y="2683" font-size="10" textLength="69" lengthAdjust="spacingAndGlyphs">OLGA,SEMEON</text>
<text x="428" y="2693" font-size="10" textLength="76" lengthAdjust="spacingAndGlyphs">MARIYA,IRINA</text>
<!-- x:=y -->
<text x="32" y="2801" font-size="14" textLength="69" lengthAdjust="spacingAndGlyphs">x,y:= X,Y;</text>
<text x="32" y="2816" font-size="14" textLength="147" lengthAdjust="spacingAndGlyphs">do x&gt;y  - &gt; x:=x-y</text>
<text x="58" y="2830" font-size="14" textLength="121" lengthAdjust="spacingAndGlyphs">y&gt;x - &gt; y:=y-x</text>
<text x="32" y="2843" font-size="14" textLength="20" lengthAdjust="spacingAndGlyphs">od;</text>
<text x="32" y="2857" font-size="14" textLength="41" lengthAdjust="spacingAndGlyphs">print(x)</text>
<text x="270" y="2803" font-size="13" textLength="55" lengthAdjust="spacingAndGlyphs">x,y:=X,Y</text>
<text x="423" y="2807" font-size="13" textLength="43" lengthAdjust="spacingAndGlyphs">print(x)</text>
<text x="344" y="2820" font-size="13" textLength="27" lengthAdjust="spacingAndGlyphs">x&gt;y</text>
<text x="344" y="2849" font-size="13" textLength="52" lengthAdjust="spacingAndGlyphs">x=x-y</text>
<text x="344" y="2877" font-size="13" textLength="27" lengthAdjust="spacingAndGlyphs">y&gt;x</text>
<text x="342" y="2907" font-size="13" textLength="52" lengthAdjust="spacingAndGlyphs">y:=y-x</text>
<!-- PRIMIO code -->
<g font-size="10">
<text x="29" y="2992" textLength="187" lengthAdjust="spacingAndGlyphs">PROGRAM PRINIO(INPUT,OUTPUT);</text>
<text x="29" y="3002" textLength="77" lengthAdjust="spacingAndGlyphs">VAR CH:CHAR;</text>
<text x="29" y="3012" textLength="34" lengthAdjust="spacingAndGlyphs">BEGIN</text>
<text x="48" y="3023" textLength="59" lengthAdjust="spacingAndGlyphs">READ(CH);</text>
<text x="48" y="3033" textLength="107" lengthAdjust="spacingAndGlyphs">WHILE CH&lt;&gt;'.' DO</text>
<text x="70" y="3043" textLength="62" lengthAdjust="spacingAndGlyphs">IF CH=','</text>
<text x="88" y="3054" textLength="26" lengthAdjust="spacingAndGlyphs">THEN</text>
<text x="107" y="3064" textLength="35" lengthAdjust="spacingAndGlyphs">BEGIN</text>
<text x="127" y="3075" textLength="49" lengthAdjust="spacingAndGlyphs">WRITELN;</text>
<text x="127" y="3086" textLength="51" lengthAdjust="spacingAndGlyphs">READ(CH)</text>
<text x="127" y="3097" textLength="98" lengthAdjust="spacingAndGlyphs">WHILE CH=' ' DO</text>
<text x="148" y="3107" textLength="50" lengthAdjust="spacingAndGlyphs">READ(CH)</text>
<text x="107" y="3117" textLength="21" lengthAdjust="spacingAndGlyphs">END</text>
<text x="88" y="3128" textLength="26" lengthAdjust="spacingAndGlyphs">ELSE</text>
<text x="107" y="3139" textLength="35" lengthAdjust="spacingAndGlyphs">BEGIN</text>
<text x="127" y="3149" textLength="62" lengthAdjust="spacingAndGlyphs">WRITE(CH);</text>
<text x="127" y="3160" textLength="51" lengthAdjust="spacingAndGlyphs">READ(CH)</text>
<text x="107" y="3171" textLength="25" lengthAdjust="spacingAndGlyphs">END;</text>
<text x="68" y="3181" textLength="46" lengthAdjust="spacingAndGlyphs">WRITELN</text>
<text x="48" y="3192" textLength="24" lengthAdjust="spacingAndGlyphs">END.</text>
<!-- PRIMIO middle -->
<text x="281" y="3003" textLength="50" lengthAdjust="spacingAndGlyphs">READ(CH)</text>
<text x="510" y="3004" textLength="47" lengthAdjust="spacingAndGlyphs">WRITELN</text>
<text x="340" y="3013" textLength="92" lengthAdjust="spacingAndGlyphs">CH&lt;&gt;',' CH=','</text>
<text x="392" y="3035" textLength="46" lengthAdjust="spacingAndGlyphs">WRITELN</text>
<text x="392" y="3046" textLength="51" lengthAdjust="spacingAndGlyphs">READ(CH)</text>
<text x="450" y="3046" textLength="40" lengthAdjust="spacingAndGlyphs">CH=' '</text>
<text x="450" y="3067" textLength="50" lengthAdjust="spacingAndGlyphs">READ(CH)</text>
<text x="392" y="3099" textLength="54" lengthAdjust="spacingAndGlyphs">WRITE(CH)</text>
<text x="392" y="3109" textLength="48" lengthAdjust="spacingAndGlyphs">READ(CH)</text>
<!-- PRIMIO right ascii -->
<text x="610" y="2994" textLength="286" lengthAdjust="spacingAndGlyphs">+-------&gt;+========================+------&gt;+</text>
<text x="616" y="3005" textLength="57" lengthAdjust="spacingAndGlyphs">READ(CH) !</text>
<text x="839" y="3005" textLength="52" lengthAdjust="spacingAndGlyphs">!WRITELN</text>
<text x="668" y="3015" textLength="99" lengthAdjust="spacingAndGlyphs">!CH&lt;&gt;'.' CH=','</text>
<text x="839" y="3015">!</text>
<text x="668" y="3026" textLength="174" lengthAdjust="spacingAndGlyphs">!------&gt;+-------&gt;+=======!</text>
<text x="722" y="3037" textLength="61" lengthAdjust="spacingAndGlyphs">!WRITELN !</text>
<text x="839" y="3037">!</text>
<text x="722" y="3047" textLength="88" lengthAdjust="spacingAndGlyphs">!READ(CH) !CH=' '</text>
<text x="839" y="3047">!</text>
<text x="722" y="3058">!</text>
<text x="781" y="3058" textLength="61" lengthAdjust="spacingAndGlyphs">!------&gt;!</text>
<text x="722" y="3068">!</text>
<text x="785" y="3068" textLength="57" lengthAdjust="spacingAndGlyphs">READ(CH) !</text>
<text x="722" y="3079">!</text>
<text x="839" y="3079">!</text>
<text x="722" y="3089" textLength="120" lengthAdjust="spacingAndGlyphs">!----------------&gt;!</text>
<text x="726" y="3100" textLength="57" lengthAdjust="spacingAndGlyphs">WRITE(CH)</text>
<text x="726" y="3111" textLength="50" lengthAdjust="spacingAndGlyphs">READ(CH)</text>
</g>
</g>

<!-- blue titles -->
<text class="bl" x="20" y="2146" font-size="14" font-style="italic" textLength="560" lengthAdjust="spacingAndGlyphs">Сетевой график в традиционной форме (а) и в соответствии с ГОСТ 19.005-85 (ISO 8631H) (b)</text>
<text class="bl" x="20" y="2440" font-size="13" textLength="421" lengthAdjust="spacingAndGlyphs">таблица решений, записанная в соответствии с ГОСТ   19.005-85 (ISO 8631H)</text>
<text class="bl" x="13" y="2580" font-size="14" font-style="italic" textLength="389" lengthAdjust="spacingAndGlyphs">Пример записи программы на ПРОЛОГЕ   "Кто дедушка Семена?":</text>

<!-- MINMAX code -->
<g class="m" xml:space="preserve">
<text x="29" y="3276">PROGRAM MINIMAX;</text>
<text x="29" y="3289">(* ОПИСАТЕЛЬНАЯ ЧАСТЬ ПРОГРАММЫ *)</text>
<text x="56" y="3304">CONST</text>
<text x="81" y="3318">Z1='ЧИСЕЛ ПРОЧИТАНО:';</text>
<text x="81" y="3333">Z2='НАИМЕНЬШЕЕ:';</text>
<text x="81" y="3347">Z3='НАИБОЛЬШЕЕ:';</text>
<text x="56" y="3361">VAR</text>
<text x="81" y="3373">N,MIN,MAX,C:INTEGER;</text>
<text x="29" y="3388">(* КОНЕЦ ОПИСАТЕЛЬНОЙ ЧАСТИ ПРОГРАММЫ *)</text>
<text x="56" y="3403">BEGIN</text>
<text x="81" y="3417">READLN(N);</text>
<text x="81" y="3431">MIN:=MAXINT;</text>
<text x="81" y="3445">MAX:=-MAXINT;</text>
<text x="81" y="3460">C:=Ø</text>
<text x="81" y="3473">WHILE N&lt;&gt;Ø DO</text>
<text x="107" y="3488">BEGIN</text>
<text x="133" y="3501">C:=C+1;</text>
<text x="133" y="3516">IF N&lt;MIN</text>
<text x="160" y="3529">THEN MIN:=N;</text>
<text x="133" y="3543">IF N&gt;MAX</text>
<text x="160" y="3557">THEN MAX:=N;</text>
<text x="133" y="3572">READLN(N)</text>
<text x="107" y="3586">END;</text>
<text x="81" y="3601">WRITELN(Z1,C);</text>
<text x="81" y="3614">WRITELN(Z2,MIN);</text>
<text x="81" y="3628">WRITELN(Z3,MAX)</text>
<text x="56" y="3643">END.</text>
</g>
<!-- MINMAX right diagram -->
<g class="m" style="letter-spacing:0" xml:space="preserve">
<text x="683" y="3280" textLength="361" lengthAdjust="spacingAndGlyphs">:---[ ОПИСАТЕЛЬНАЯ ЧАСТЬ ПРОГРАММЫ]---:</text>
<text x="685" y="3295">:</text>
<text x="1040" y="3295">:</text>
<text x="617" y="3310" textLength="120" lengthAdjust="spacingAndGlyphs">PROGRAM:CONST</text>
<text x="934" y="3310" textLength="63" lengthAdjust="spacingAndGlyphs">INTEGER</text>
<text x="1040" y="3310">:</text>
<text x="587" y="3325" textLength="457" lengthAdjust="spacingAndGlyphs">+------&gt;+--------------------&gt;(VAR)----------&gt;+</text>
<text x="617" y="3340" textLength="267" lengthAdjust="spacingAndGlyphs">MINIMAX Z1='ЧИСЕЛ ПРОЧИТАНО:'</text>
<text x="934" y="3340" textLength="99" lengthAdjust="spacingAndGlyphs">N,MIN,MAX,C</text>
<text x="691" y="3356" textLength="146" lengthAdjust="spacingAndGlyphs">Z2='НАИМЕНЬШЕЕ:'</text>
<text x="691" y="3370" textLength="144" lengthAdjust="spacingAndGlyphs">Z3='НАИБОЛЬШЕЕ:'</text>
<text x="529" y="3400" textLength="565" lengthAdjust="spacingAndGlyphs">+----------&gt;+==============================+--------------&gt;+</text>
<text x="536" y="3416" textLength="82" lengthAdjust="spacingAndGlyphs">READLN(N)</text>
<text x="648" y="3416">!</text>
<text x="936" y="3416" textLength="130" lengthAdjust="spacingAndGlyphs">!WRITELN(Z1,C)</text>
<text x="536" y="3431" textLength="101" lengthAdjust="spacingAndGlyphs">MIN:=MAXINT</text>
<text x="646" y="3431" textLength="48" lengthAdjust="spacingAndGlyphs">!N&lt;&gt;Ø</text>
<text x="723" y="3431" textLength="46" lengthAdjust="spacingAndGlyphs">N&lt;MIN</text>
<text x="788" y="3431" textLength="45" lengthAdjust="spacingAndGlyphs">N&gt;MAX</text>
<text x="936" y="3431" textLength="148" lengthAdjust="spacingAndGlyphs">!WRITELN(Z2,MIN)</text>
<text x="536" y="3446" textLength="548" lengthAdjust="spacingAndGlyphs">MAX:=-MAXINT!-----&gt;+-----&gt;+-----&gt;+--------&gt;!WRITELN(Z3,MAX)</text>
<text x="536" y="3461" textLength="37" lengthAdjust="spacingAndGlyphs">C:=Ø</text>
<text x="657" y="3461" textLength="277" lengthAdjust="spacingAndGlyphs">C:=C+1!MIN:=N!MAX:=N!READLN(N)</text>
<text x="718" y="3476">!</text>
<text x="783" y="3476">!</text>
<text x="850" y="3476">!</text>
<text x="717" y="3491" textLength="135" lengthAdjust="spacingAndGlyphs">!-----&gt;!-----&gt;!</text>
</g>
</svg>
</body></html>
